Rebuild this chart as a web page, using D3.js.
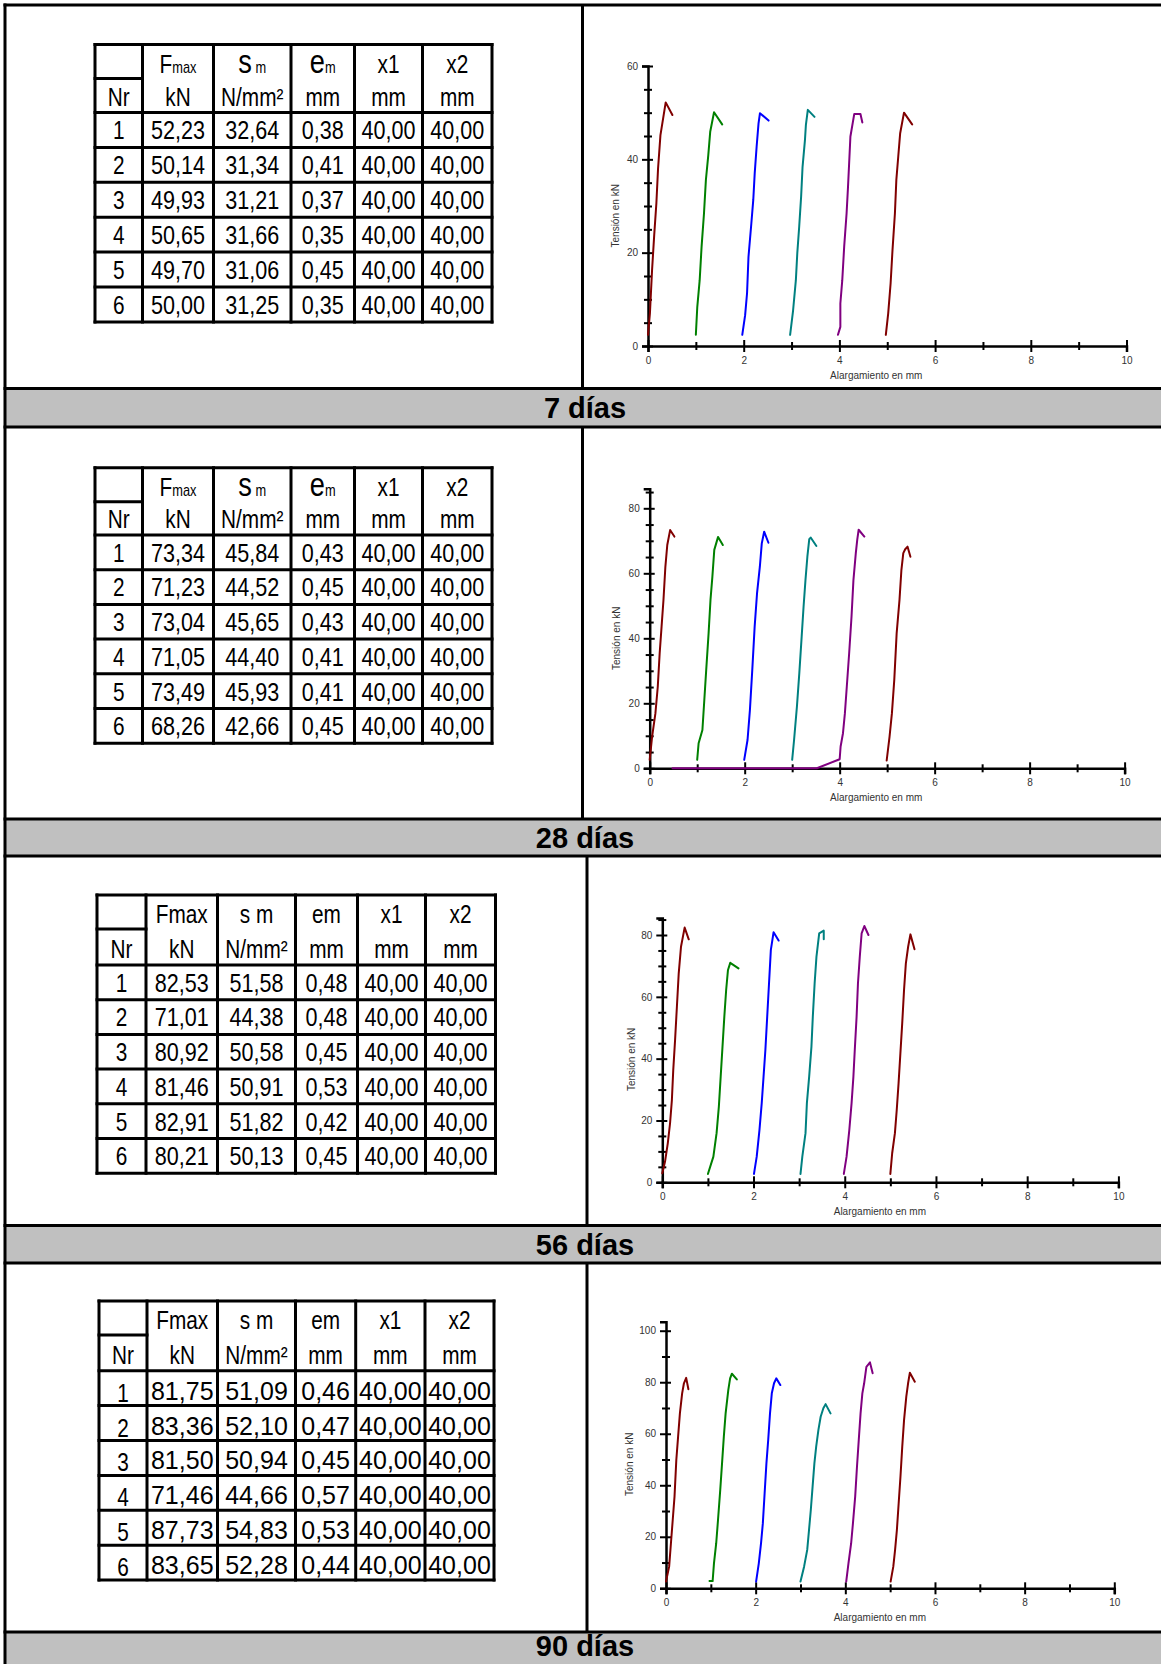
<!DOCTYPE html>
<html>
<head>
<meta charset="utf-8">
<script src="https://cdn.jsdelivr.net/npm/d3@7"></script>
<style>
  html, body { margin: 0; padding: 0; background: #fff; }
  svg { display: block; }
</style>
</head>
<body>
<svg id="chart" width="1161" height="1664"></svg>
<script>
// ---------------- DATA ----------------
const ageLabels = ["7 días", "28 días", "56 días", "90 días"];
const nr = [1, 2, 3, 4, 5, 6];

const fmax7 = [52.23, 50.14, 49.93, 50.65, 49.70, 50.00];
const sm7   = [32.64, 31.34, 31.21, 31.66, 31.06, 31.25];
const em7   = [0.38, 0.41, 0.37, 0.35, 0.45, 0.35];
const x1_7  = [40, 40, 40, 40, 40, 40];
const x2_7  = [40, 40, 40, 40, 40, 40];

const fmax28 = [73.34, 71.23, 73.04, 71.05, 73.49, 68.26];
const sm28   = [45.84, 44.52, 45.65, 44.40, 45.93, 42.66];
const em28   = [0.43, 0.45, 0.43, 0.41, 0.41, 0.45];
const x1_28  = [40, 40, 40, 40, 40, 40];
const x2_28  = [40, 40, 40, 40, 40, 40];

const fmax56 = [82.53, 71.01, 80.92, 81.46, 82.91, 80.21];
const sm56   = [51.58, 44.38, 50.58, 50.91, 51.82, 50.13];
const em56   = [0.48, 0.48, 0.45, 0.53, 0.42, 0.45];
const x1_56  = [40, 40, 40, 40, 40, 40];
const x2_56  = [40, 40, 40, 40, 40, 40];

const fmax90 = [81.75, 83.36, 81.50, 71.46, 87.73, 83.65];
const sm90   = [51.09, 52.10, 50.94, 44.66, 54.83, 52.28];
const em90   = [0.46, 0.47, 0.45, 0.57, 0.53, 0.44];
const x1_90  = [40, 40, 40, 40, 40, 40];
const x2_90  = [40, 40, 40, 40, 40, 40];

const headSub   = [[["F",26],["max",16]], [["s",34],[" m",16]], [["e",34],["m",16]], [["x1",26]], [["x2",26]]];
const headPlain = [[["Fmax",26]], [["s m",26]], [["em",26]], [["x1",26]], [["x2",26]]];
const unitLabels = ["Nr", "kN", "N/mm²", "mm", "mm", "mm"];

const xTickLabels = [0, 2, 4, 6, 8, 10];
const yLabel = "Tensión en kN";
const xLabel = "Alargamiento en mm";

const curveColors = ["#800000", "#008000", "#0000ff", "#008080", "#800080", "#800000"];

// curves: [elongation mm, force kN]
const curves7 = [
  [[0,2.4],[0.04,7],[0.085,16.3],[0.13,23.8],[0.175,30.6],[0.21,38],[0.26,45.2],[0.37,52.2],[0.51,49.5]],
  [[1.0,2.4],[1.03,8.4],[1.08,14.1],[1.12,21.3],[1.17,28.4],[1.21,35.6],[1.26,40.9],[1.3,45.9],[1.38,50.1],[1.55,47.5]],
  [[1.97,2.4],[2.03,6.6],[2.07,11.3],[2.1,19.1],[2.16,26.3],[2.2,31.3],[2.23,37],[2.27,42.7],[2.31,47.7],[2.34,49.9],[2.52,48.3]],
  [[2.97,2.4],[3.03,7.4],[3.09,14.1],[3.12,19.9],[3.16,25.6],[3.2,32],[3.23,38.4],[3.28,44.1],[3.3,47.4],[3.34,50.6],[3.48,49.1]],
  [[3.97,2.4],[4.02,4.1],[4.02,9.1],[4.06,14.1],[4.1,21.3],[4.15,28.4],[4.18,34.1],[4.2,38.4],[4.23,44.9],[4.31,49.7],[4.44,49.7],[4.48,47.9]],
  [[4.97,2.4],[5.02,7],[5.07,13.4],[5.11,20.6],[5.16,28.4],[5.19,35.6],[5.23,40.6],[5.27,45.6],[5.35,50.0],[5.52,47.5]]
];
const curves28 = [
  [[0,2.6],[0.05,9.7],[0.12,16.9],[0.17,25.1],[0.21,35.4],[0.25,43.6],[0.29,51.8],[0.33,62],[0.37,68.7],[0.43,73.3],[0.52,71.3]],
  [[1.0,2.6],[1.03,7.7],[1.11,11.8],[1.15,21],[1.19,30.3],[1.24,41.5],[1.28,51.8],[1.32,59],[1.36,67.2],[1.44,71.2],[1.54,68.7]],
  [[1.99,2.6],[2.06,8.7],[2.11,17.9],[2.16,30.3],[2.21,43.6],[2.26,53.8],[2.32,62.1],[2.36,69.2],[2.41,72.8],[2.5,69.4]],
  [[3.0,2.6],[3.04,8.7],[3.1,19],[3.15,29.2],[3.2,40.5],[3.24,49.7],[3.28,57.9],[3.32,65.1],[3.36,70.5],[3.39,71],[3.51,68.4]],
  [[0.48,0],[3.52,0],[4.0,2.8],[4.02,6.7],[4.07,10.8],[4.11,16.9],[4.15,25.1],[4.2,35.4],[4.25,46.7],[4.29,57.9],[4.34,66.2],[4.37,70.3],[4.4,73.4],[4.52,71.3]],
  [[4.99,2.4],[5.05,9.7],[5.1,16.9],[5.15,27.2],[5.2,41.5],[5.26,51.8],[5.3,61],[5.34,66.2],[5.38,67.4],[5.43,68.2],[5.49,65.1]]
];
const curves56 = [
  [[0,2.9],[0.06,6.7],[0.12,12.6],[0.17,19.1],[0.21,26.6],[0.24,36.3],[0.28,46],[0.32,56.8],[0.36,67.6],[0.41,76.2],[0.49,82.4],[0.58,78.6]],
  [[1.0,2.7],[1.12,8.3],[1.19,15.9],[1.24,24.5],[1.28,34.2],[1.32,43.9],[1.36,53.6],[1.4,62.2],[1.44,68.7],[1.49,71.0],[1.67,69.2]],
  [[2.01,2.7],[2.07,8.3],[2.13,16.9],[2.18,25.6],[2.22,34.2],[2.26,42.8],[2.3,53.6],[2.34,64.4],[2.38,75.2],[2.44,80.9],[2.55,78.2]],
  [[3.03,2.7],[3.07,8.3],[3.14,15.9],[3.17,25.6],[3.22,34.2],[3.27,43.9],[3.3,53.6],[3.34,64.4],[3.38,73],[3.44,80.5],[3.54,81.4],[3.54,78.6]],
  [[3.98,2.7],[4.04,8.3],[4.1,16.9],[4.15,25.6],[4.19,34.2],[4.22,42.8],[4.26,53.6],[4.29,64.4],[4.33,73],[4.37,80.5],[4.43,82.9],[4.52,80]],
  [[5.0,2.7],[5.04,9.4],[5.1,15.9],[5.14,23.4],[5.18,32],[5.22,41.7],[5.26,51.4],[5.3,62.2],[5.34,70.8],[5.39,76.2],[5.44,80.2],[5.53,75.4]]
];
const curves90 = [
  [[0,2.6],[0.07,8.4],[0.11,17.5],[0.15,26.5],[0.19,35.6],[0.23,49.8],[0.27,58.9],[0.31,67.9],[0.36,75.7],[0.4,79.6],[0.45,81.7],[0.5,77.3]],
  [[0.97,2.8],[1.04,2.8],[1.07,9.7],[1.12,17.5],[1.16,26.5],[1.21,38.2],[1.25,48.5],[1.29,58.9],[1.33,67.9],[1.39,77],[1.43,81.5],[1.47,83.3],[1.58,81.1]],
  [[2.01,2.6],[2.07,9.7],[2.12,17.5],[2.16,25.2],[2.2,36.9],[2.24,48.5],[2.28,57.6],[2.32,67.9],[2.36,75.7],[2.41,79.6],[2.46,81.5],[2.55,78.9]],
  [[3.0,2.6],[3.08,8.4],[3.15,14.9],[3.19,22.6],[3.23,30.4],[3.27,39.5],[3.31,48.5],[3.35,55],[3.4,61.5],[3.45,66.6],[3.51,69.9],[3.56,71.5],[3.67,67.9]],
  [[4.02,2.6],[4.07,9.7],[4.13,17.5],[4.17,25.2],[4.22,35.6],[4.26,47.2],[4.3,57.6],[4.34,67.9],[4.38,75.7],[4.42,79.6],[4.47,86],[4.55,87.7],[4.61,83.5]],
  [[5.01,2.6],[5.07,8.4],[5.11,14.9],[5.15,22.6],[5.19,33],[5.23,43.3],[5.27,55],[5.31,65.3],[5.36,74.4],[5.4,79.6],[5.44,83.7],[5.55,80.2]]
];

// ---------------- LAYOUT ----------------
const W = 1161, H = 1664;
const FONT = "'Liberation Sans', Arial, Helvetica, sans-serif";
const svg = d3.select("#chart");
svg.append("rect").attr("width", W).attr("height", H).attr("fill", "#fff");

const bands = [[388.5, 427], [819, 856], [1225.5, 1263], [1632, 1672]];
const bandBaselines = [417.5, 848, 1254.5, 1656];
const dividers = [
  {x: 582.5, y1: 5, y2: 388.5}, {x: 582.5, y1: 427, y2: 819},
  {x: 587, y1: 856, y2: 1225.5}, {x: 587, y1: 1263, y2: 1632}
];

const tableLayouts = [
  {cx: [95, 142.5, 213.5, 291, 354.5, 422.5, 492], top: 44.5, hb: 112.5, rh: 34.9},
  {cx: [95, 142.5, 213.5, 291, 354.5, 422.5, 492], top: 467.7, hb: 535, rh: 34.7},
  {cx: [97, 146, 217.5, 295.5, 357.5, 425.5, 495.5], top: 895, hb: 965, rh: 34.7},
  {cx: [99, 147, 217.5, 295.5, 355.7, 425, 494], top: 1301, hb: 1370.7, rh: 34.9}
];

const chartLayouts = [
  {x0: 648, x10: 1126.5, y0: 346, yTop: 60, yTopPx: 66, minor: 5, ylabDx: 33},
  {x0: 649.7, x10: 1124.6, y0: 768.3, yTop: 86, yTopPx: 488.8, minor: 5, ylabDx: 33},
  {x0: 662.3, x10: 1118.4, y0: 1182.3, yTop: 85.5, yTopPx: 918, minor: 5, ylabDx: 31},
  {x0: 666, x10: 1114.3, y0: 1588.3, yTop: 103.5, yTopPx: 1321.7, minor: 10, ylabDx: 37}
];

const sections = [
  {fmax: fmax7, sm: sm7, em: em7, x1: x1_7, x2: x2_7, head: headSub, curves: curves7, numStyle: "cond"},
  {fmax: fmax28, sm: sm28, em: em28, x1: x1_28, x2: x2_28, head: headSub, curves: curves28, numStyle: "cond"},
  {fmax: fmax56, sm: sm56, em: em56, x1: x1_56, x2: x2_56, head: headPlain, curves: curves56, numStyle: "cond"},
  {fmax: fmax90, sm: sm90, em: em90, x1: x1_90, x2: x2_90, head: headPlain, curves: curves90, numStyle: "arial"}
];

const fmt = v => d3.format(".2f")(v).replace(".", ",");

// ---------------- FRAME ----------------
const frame = svg.append("g");
bands.forEach(([t, b], i) => {
  frame.append("rect").attr("x", 5).attr("y", t).attr("width", W - 5).attr("height", b - t).attr("fill", "#c0c0c0");
  frame.append("text").attr("x", 585).attr("y", bandBaselines[i])
    .attr("text-anchor", "middle").attr("font-family", FONT).attr("font-weight", "bold")
    .attr("font-size", 29).attr("fill", "#000").text(ageLabels[i]);
});
const hLines = [5].concat(bands.flat().filter(v => v < H));
frame.selectAll("line.h").data(hLines).join("line").attr("class", "h")
  .attr("x1", 3.5).attr("x2", W).attr("y1", d => d).attr("y2", d => d)
  .attr("stroke", "#000").attr("stroke-width", 3);
frame.append("line").attr("x1", 5).attr("x2", 5).attr("y1", 3.5).attr("y2", H)
  .attr("stroke", "#000").attr("stroke-width", 3);
frame.selectAll("line.v").data(dividers).join("line").attr("class", "v")
  .attr("x1", d => d.x).attr("x2", d => d.x).attr("y1", d => d.y1).attr("y2", d => d.y2)
  .attr("stroke", "#000").attr("stroke-width", 3);

// ---------------- TABLES ----------------
function drawTable(L, S) {
  const g = svg.append("g");
  const cx = L.cx;
  const nRows = nr.length;
  const rowY = d3.range(nRows + 1).map(i => L.hb + i * L.rh);
  const bottom = rowY[nRows];
  const split = L.top + 34;
  const stroke = l => l.attr("stroke", "#000").attr("stroke-width", 3).attr("stroke-linecap", "square");

  g.selectAll("line.tv").data(cx).join("line").attr("class", "tv")
    .attr("x1", d => d).attr("x2", d => d).attr("y1", L.top).attr("y2", bottom).call(stroke);
  g.selectAll("line.th").data([L.top].concat(rowY)).join("line").attr("class", "th")
    .attr("x1", cx[0]).attr("x2", cx[6]).attr("y1", d => d).attr("y2", d => d).call(stroke);
  g.append("line").attr("x1", cx[0]).attr("x2", cx[1]).attr("y1", split).attr("y2", split).call(stroke);

  const mid = i => (cx[i] + cx[i + 1]) / 2;
  const condText = (x, y, size, sx = 0.8) => g.append("text")
    .attr("transform", `translate(${x},${y}) scale(${sx},1)`)
    .attr("text-anchor", "middle").attr("font-family", FONT).attr("font-size", size).attr("fill", "#000");

  // header line 1
  S.head.forEach((parts, j) => {
    const t = condText(mid(j + 1), L.top + 28, 26);
    parts.forEach(([s, sz]) => t.append("tspan").attr("font-size", sz).text(s));
  });
  // header line 2
  unitLabels.forEach((u, j) => condText(mid(j), L.hb - 7, 26).text(u));

  // rows
  const cols = [S.fmax, S.sm, S.em, S.x1, S.x2];
  nr.forEach((n, i) => {
    const rb = rowY[i + 1];
    if (S.numStyle === "arial") {
      condText(mid(0), rb - 4, 26).text(n);
      cols.forEach((arr, j) => {
        g.append("text").attr("transform", `translate(${mid(j + 1)},${rb - 6})`)
          .attr("text-anchor", "middle").attr("font-family", FONT).attr("font-size", 25)
          .attr("fill", "#000").text(fmt(arr[i]));
      });
    } else {
      condText(mid(0), rb - 8, 26).text(n);
      cols.forEach((arr, j) => condText(mid(j + 1), rb - 8, 26, 0.83).text(fmt(arr[i])));
    }
  });
}

// ---------------- CHARTS ----------------
function drawChart(C, curves) {
  const g = svg.append("g");
  const x = d3.scaleLinear().domain([0, 10]).range([C.x0, C.x10]);
  const y = d3.scaleLinear().domain([0, C.yTop]).range([C.y0, C.yTopPx]);

  // y axis
  const yTicks = d3.range(0, C.yTop + 0.001, C.minor);
  const gy = g.append("g").attr("transform", `translate(${C.x0},0)`)
    .call(d3.axisLeft(y).tickValues(yTicks).tickSizeOuter(0).tickSize(6)
      .tickFormat(d => d % 20 === 0 ? d : ""));
  gy.select(".domain").attr("stroke", "#000").attr("stroke-width", 2.5);
  gy.selectAll(".tick line").attr("stroke", "#000").attr("stroke-width", 2)
    .attr("x1", d => d % 20 === 0 ? 5 : 4).attr("x2", d => d % 20 === 0 ? -6 : -4);
  gy.selectAll(".tick text").attr("x", -10).attr("font-family", FONT).attr("font-size", 10).attr("fill", "#333");

  // x axis
  const gx = g.append("g").attr("transform", `translate(0,${C.y0})`)
    .call(d3.axisBottom(x).tickValues(d3.range(0, 11)).tickSizeOuter(0).tickSize(6)
      .tickFormat(d => xTickLabels.includes(d) ? d : ""));
  gx.select(".domain").attr("stroke", "#000").attr("stroke-width", 2.5);
  gx.selectAll(".tick line").attr("stroke", "#000").attr("stroke-width", 2)
    .attr("y1", d => d % 2 === 0 ? -6 : -4).attr("y2", d => d % 2 === 0 ? 6 : 4);
  gx.selectAll(".tick text").attr("y", 11).attr("font-family", FONT).attr("font-size", 10).attr("fill", "#333");

  // axis titles
  g.append("text").attr("x", C.x0 + 0.477 * (C.x10 - C.x0)).attr("y", C.y0 + 33)
    .attr("text-anchor", "middle").attr("font-family", FONT).attr("font-size", 10).attr("fill", "#333").text(xLabel);
  const ly = C.y0 - 0.465 * (C.y0 - C.yTopPx);
  g.append("text").attr("transform", `translate(${C.x0 - C.ylabDx},${ly}) rotate(-90)`)
    .attr("text-anchor", "middle").attr("dy", "0.35em").attr("font-family", FONT).attr("font-size", 10)
    .attr("fill", "#333").text(yLabel);

  // curves
  const line = d3.line().x(d => x(d[0])).y(d => y(d[1]));
  g.selectAll("path.curve").data(curves).join("path").attr("class", "curve")
    .attr("d", line).attr("fill", "none")
    .attr("stroke", (d, i) => curveColors[i]).attr("stroke-width", 2)
    .attr("stroke-linejoin", "round").attr("stroke-linecap", "round");
}

sections.forEach((S, i) => {
  drawTable(tableLayouts[i], S);
  drawChart(chartLayouts[i], S.curves);
});
</script>
</body>
</html>
